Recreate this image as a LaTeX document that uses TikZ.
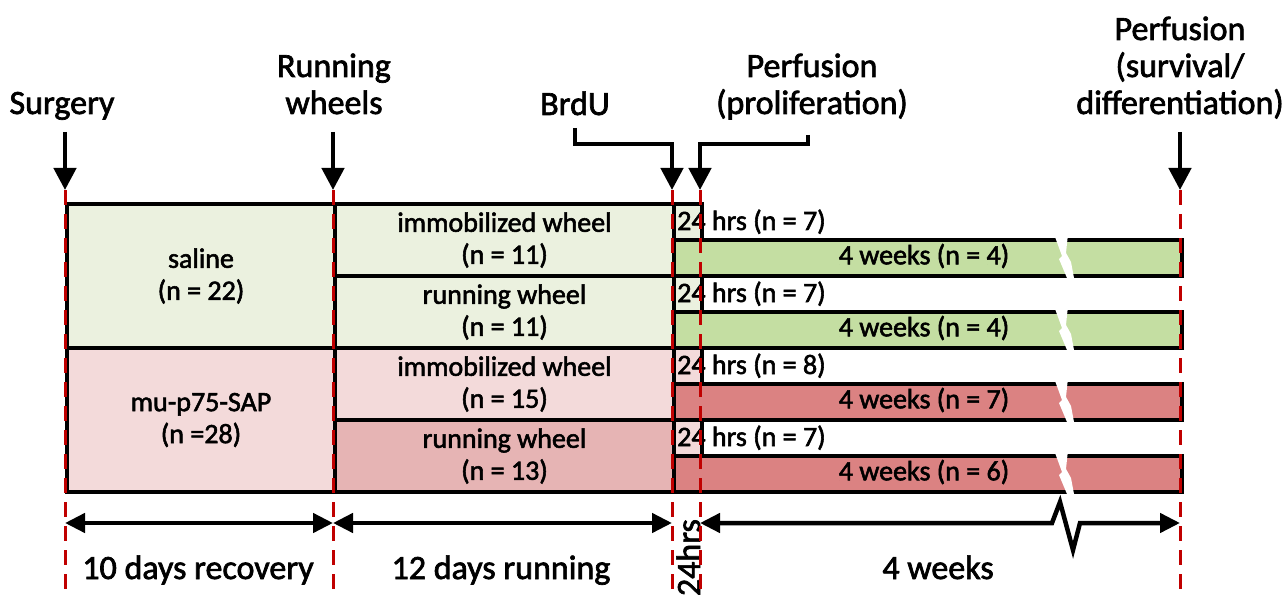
\documentclass[tikz,border=0pt]{standalone}
\usepackage{fontspec}
\setmainfont{Carlito}[FakeBold=2]
\usetikzlibrary{arrows.meta}
\definecolor{lgreen}{HTML}{EBF1DF}
\definecolor{mgreen}{HTML}{C4DEA2}
\definecolor{lpink}{HTML}{F3DADA}
\definecolor{mpink}{HTML}{E6B4B4}
\definecolor{dpink}{HTML}{DB8282}
\definecolor{dred}{HTML}{C00000}
\begin{document}
\begin{tikzpicture}[x=1pt,y=-1pt,
  cell/.style={draw=black,line width=4pt,anchor=north west,inner sep=0pt,font=\fontsize{28}{32}\selectfont,align=center},
  lbl/.style={font=\fontsize{34}{37}\selectfont,align=center,inner sep=0pt},
  small/.style={font=\fontsize{28}{32}\selectfont,inner sep=0pt},
  arr/.style={line width=4.5pt,-{Triangle[length=22pt,width=22pt]}},
  darr/.style={line width=4.5pt,{Triangle[length=20pt,width=19pt]}-{Triangle[length=20pt,width=19pt]}},
  reddash/.style={draw=dred,line width=3pt,dash pattern=on 15pt off 9pt},
]
\useasboundingbox (0,0) rectangle (1286,596);
\fill[white] (0,0) rectangle (1286,596);

% left and middle columns
\node[cell,fill=lgreen,minimum width=268pt,minimum height=144pt] (sal) at (65,202) {saline\\(n = 22)};
\node[cell,fill=lpink,minimum width=268pt,minimum height=144pt] (sap) at (65,346) {mu-p75-SAP\\(n =28)};
\node[cell,fill=lgreen,minimum width=339pt,minimum height=72pt] (m1) at (333,202) {immobilized wheel\\(n = 11)};
\node[cell,fill=lgreen,minimum width=339pt,minimum height=72pt] (m2) at (333,274) {running wheel\\(n = 11)};
\node[cell,fill=lpink,minimum width=339pt,minimum height=72pt] (m3) at (333,346) {immobilized wheel\\(n = 15)};
\node[cell,fill=mpink,minimum width=339pt,minimum height=72pt] (m4) at (333,418) {running wheel\\(n = 13)};

% right side groups
\foreach \k/\yy/\lc/\dc/\nh/\nw in {1/202/lgreen/mgreen/7/4,2/274/lgreen/mgreen/7/4,3/346/lpink/dpink/8/7,4/418/lpink/dpink/7/6}{
  \node[cell,fill=\lc,minimum width=28pt,minimum height=36pt] (h\k) at (672,\yy) {};
  \node[cell,fill=\dc,minimum width=508pt,minimum height=36pt] (w\k) at (672,\yy+36) {};
  \fill[white] (1054,\yy+32) -- (1068,\yy+32) -- (1066,\yy+51) -- (1071,\yy+60) -- (1074,\yy+76) -- (1067,\yy+76) -- (1059,\yy+57) -- (1062,\yy+54) -- cycle;
  \node[small,anchor=base west] (ht\k) at (677,\yy+28) {24 hrs (n = \nh)};
  \node[small] (wt\k) at (924,\yy+54) {4 weeks (n = \nw)};
}

% 24hrs rotated
\node[lbl,rotate=90,anchor=base east] (h24) at (700,519) {24hrs};

% red dashed time lines
\foreach \x/\n in {65/a,333/b,672/c,700/d,1180/e}{
  \coordinate (t\n) at (\x,190);
  \coordinate (b\n) at (\x,600);
  \draw[reddash] (t\n) -- (b\n);
}

% top arrows
\coordinate (s0) at (65,132);
\coordinate (r0) at (333,132);
\coordinate (f0) at (1180,132);
\coordinate (u0) at (575,128);
\coordinate (u1) at (672,144);
\coordinate (p0) at (808,135);
\coordinate (p1) at (700,144);
\draw[arr] (s0) -- (ta);
\draw[arr] (r0) -- (tb);
\draw[arr] (f0) -- (te);
\draw[arr] (u0) |- (u1) -- (tc);
\draw[arr] (p0) |- (p1) -- (td);

% bottom arrows
\coordinate (La) at (65,523);
\coordinate (Lb) at (333,523);
\coordinate (Lc) at (672,523);
\coordinate (Ld) at (700,523);
\coordinate (Le) at (1180,523);
\coordinate (z1) at (1052,523);
\coordinate (z2) at (1060,502);
\coordinate (z3) at (1073,550);
\coordinate (z4) at (1080,523);
\draw[darr] (La) -- (Lb);
\draw[darr] (Lb) -- (Lc);
\draw[darr] (Ld) -- (z1) -- (z2) -- (z3) -- (z4) -- (Le);

% labels
\node[lbl,anchor=base] (surg) at (62,114) {Surgery};
\node[lbl,anchor=base] (runl) at (334,114) {Running\\wheels};
\node[lbl,anchor=base] (brdu) at (575,115) {BrdU};
\node[lbl,anchor=base] (perf1) at (812,114) {Perfusion\\(proliferation)};
\node[lbl,anchor=base] (perf2) at (1180,114) {Perfusion\\(survival/\\differentiation)};
\node[lbl,anchor=base] (rec) at (198,579) {10 days recovery};
\node[lbl,anchor=base] (runn) at (501,579) {12 days running};
\node[lbl,anchor=base] (wk) at (938,579) {4 weeks};
\end{tikzpicture}
\end{document}
